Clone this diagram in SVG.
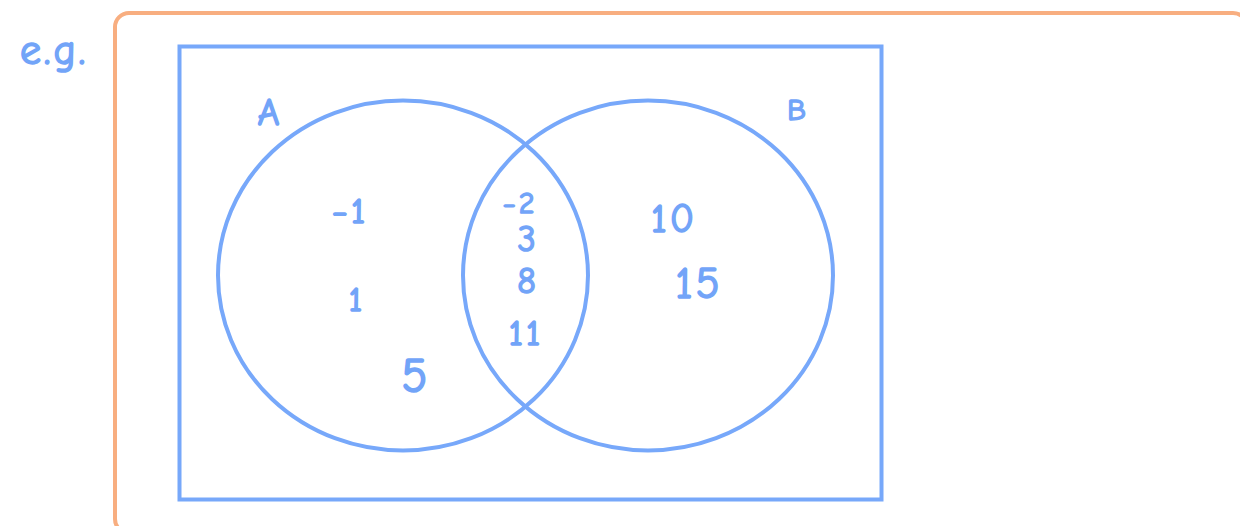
<svg xmlns="http://www.w3.org/2000/svg" width="1240" height="526" viewBox="0 0 1240 526">
<style>
.t{font-family:"Comic Neue","Liberation Sans","DejaVu Sans",sans-serif;fill:#72a4f8;stroke:#72a4f8;stroke-width:1.6;stroke-linejoin:round;text-anchor:middle;letter-spacing:3px}
.b{fill:none;stroke:#77a8fa;stroke-width:4}
</style>
<rect width="1240" height="526" fill="#ffffff"/>
<g id="frame"><rect x="115" y="13" width="1132" height="520" rx="14" fill="none" stroke="#f8ae80" stroke-width="4"/></g>
<g id="label-eg"><text class="t" x="54" y="64" font-size="42">e.g.</text></g>
<g id="universe"><rect class="b" x="179.5" y="46.5" width="702" height="453"/></g>
<g id="setA"><ellipse class="b" cx="403" cy="275.5" rx="185" ry="175"/><text class="t" x="270" y="125" font-size="38">A</text></g>
<g id="setB"><ellipse class="b" cx="648" cy="275.5" rx="185" ry="175"/><text class="t" x="798" y="120" font-size="30">B</text></g>
<g id="onlyA">
<text class="t" x="350" y="223" font-size="36">−1</text>
<text class="t" x="357" y="311" font-size="34">1</text>
<text class="t" x="416" y="392" font-size="48">5</text>
</g>
<g id="intersection">
<text class="t" x="520" y="213" font-size="30">−2</text>
<text class="t" x="528" y="251" font-size="36">3</text>
<text class="t" x="528" y="293" font-size="36">8</text>
<text class="t" x="526" y="345" font-size="36">11</text>
</g>
<g id="onlyB">
<text class="t" x="674" y="232" font-size="40">10</text>
<text class="t" x="699" y="298" font-size="44">15</text>
</g>
<g id="connectors"></g>
</svg>
